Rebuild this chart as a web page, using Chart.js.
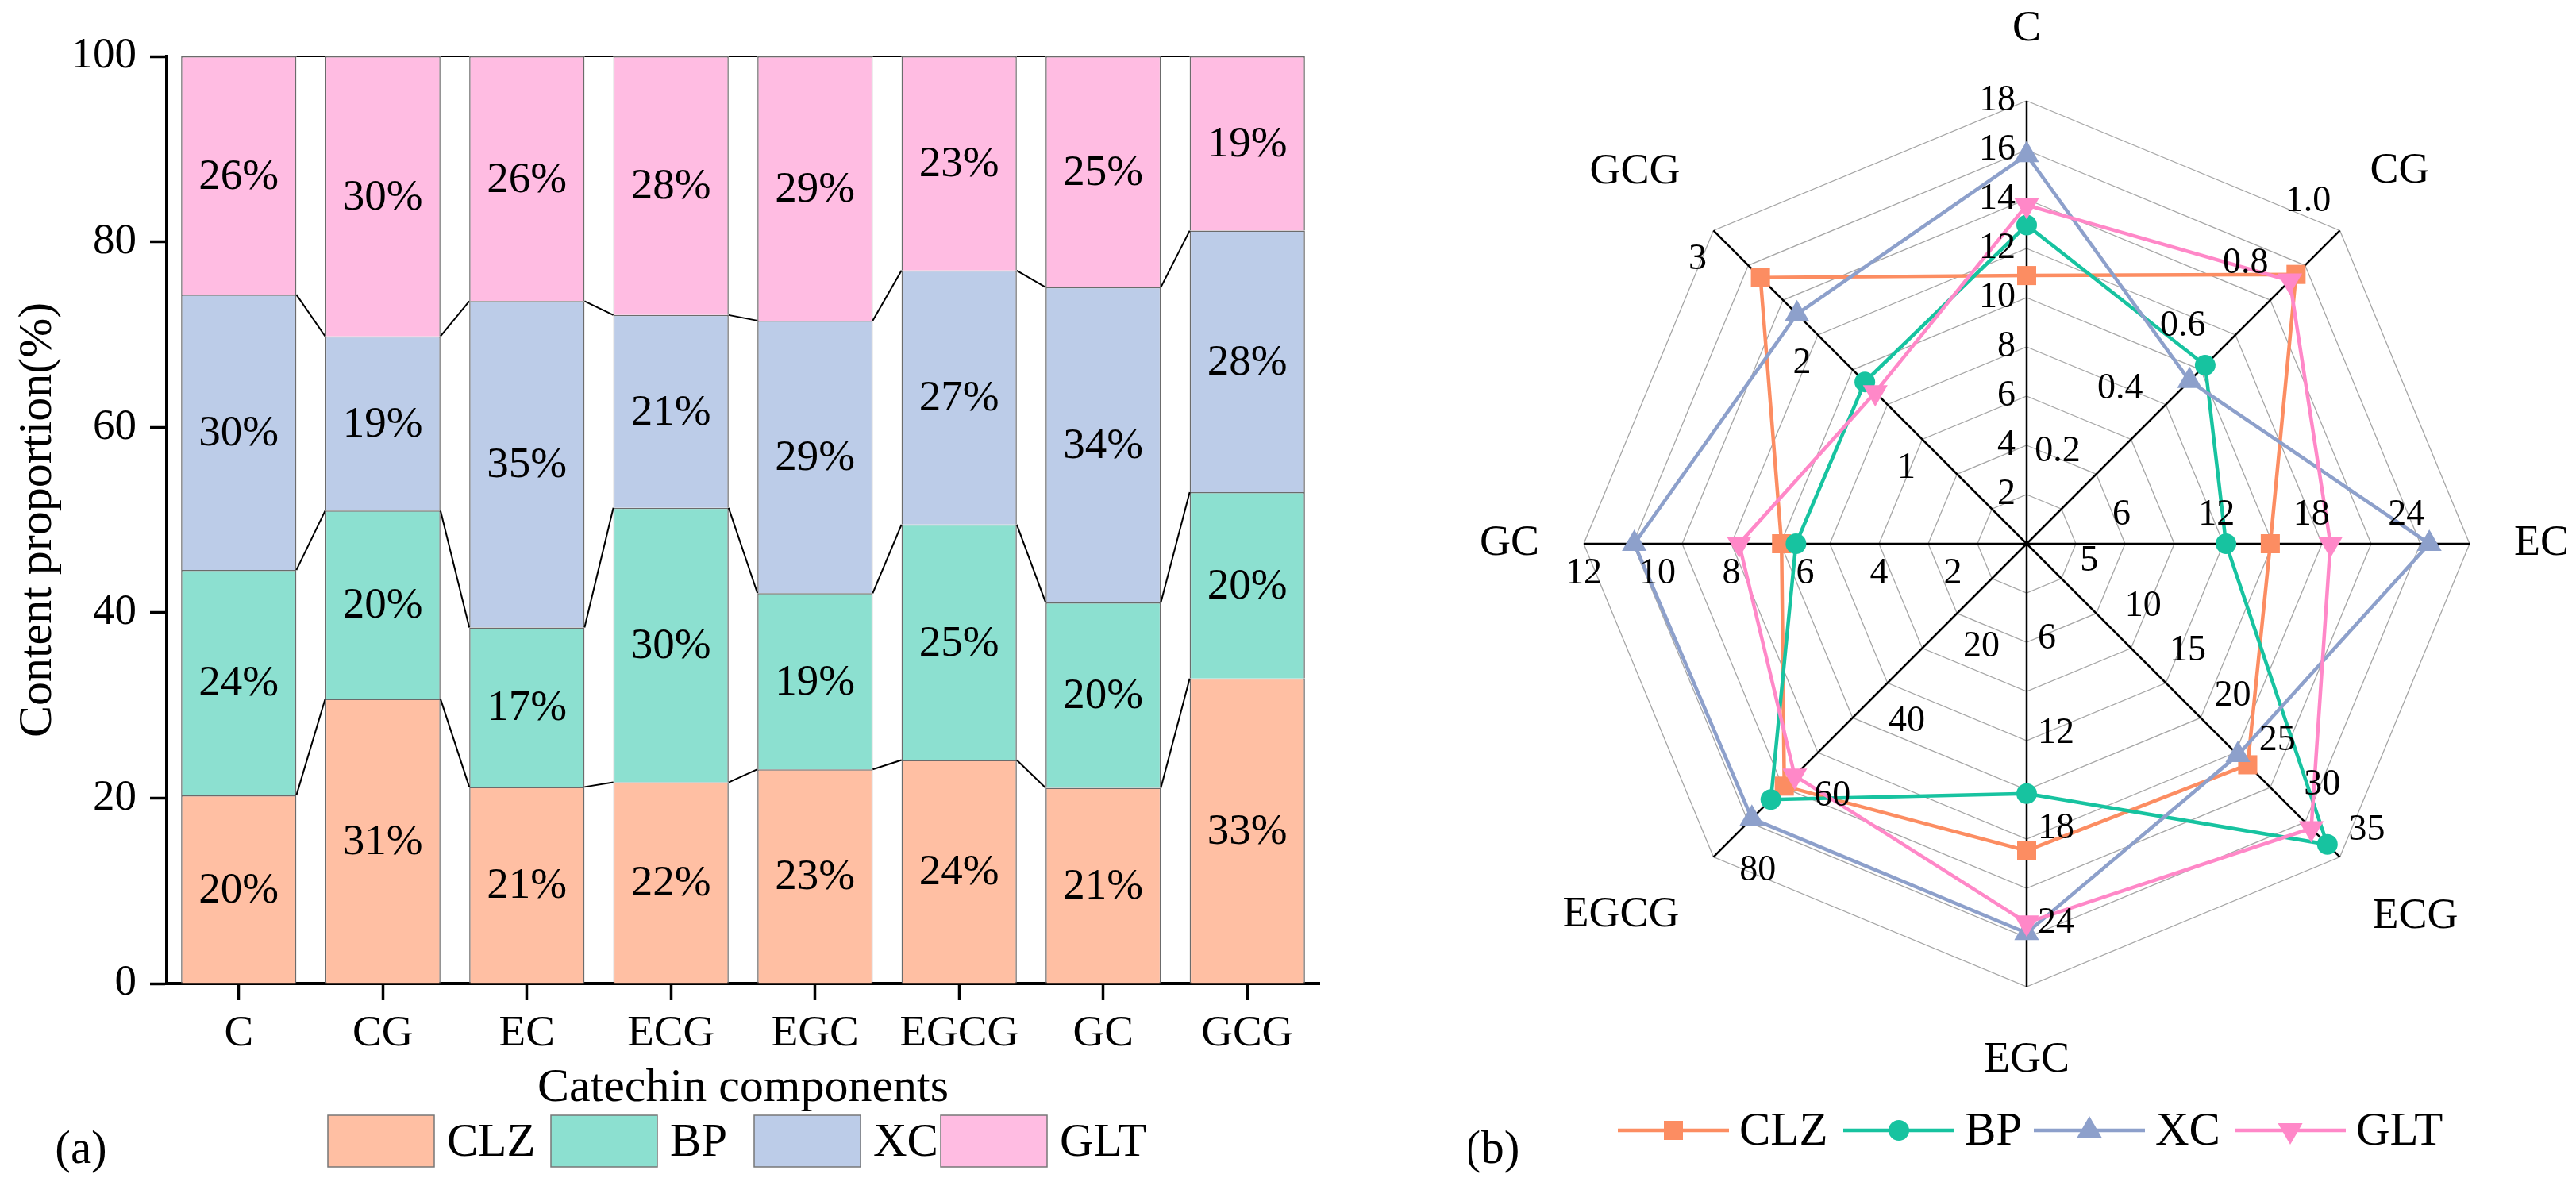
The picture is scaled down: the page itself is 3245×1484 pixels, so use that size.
<!DOCTYPE html>
<html>
<head>
<meta charset="utf-8">
<script src="https://cdn.jsdelivr.net/npm/chart.js"></script>
<style>
  body { margin: 0; background: #fff; font-family: "Liberation Serif", "Times New Roman", serif; }
  #wrap { position: relative; width: 3245px; height: 1484px; }
  canvas { position: absolute; top: 0; }
  #bar { left: 0; }
  #radar { left: 1850px; }
</style>
</head>
<body>
<div id="wrap">
  <canvas id="bar" width="1850" height="1484"></canvas>
  <canvas id="radar" width="1395" height="1484"></canvas>
</div>
<script>
  // catechin components and tea samples
  const components = ['C', 'CG', 'EC', 'ECG', 'EGC', 'EGCG', 'GC', 'GCG'];
  const samples = ['CLZ', 'BP', 'XC', 'GLT'];

  // (a) share of each sample for every component, %
  const clzShare = [20.3, 30.7, 21.2, 21.7, 23.1, 24.1, 21.1, 32.9];
  const bpShare  = [24.3, 20.3, 17.2, 29.6, 19.0, 25.4, 20.0, 20.1];
  const xcShare  = [29.7, 18.8, 35.2, 20.8, 29.4, 27.4, 34.0, 28.2];
  const gltShare = [25.7, 30.2, 26.4, 27.9, 28.5, 23.1, 24.9, 18.8];

  // (b) content of each component, every axis has its own range
  const clzContent = [10.9, 0.86, 15.4, 24.7, 19.4, 65.0, 6.64, 2.55];
  const bpContent  = [12.95, 0.57, 12.6, 33.6, 15.8, 68.6, 6.25, 1.55];
  const xcContent  = [15.8, 0.52, 25.45, 23.6, 24.6, 73.7, 10.63, 2.20];
  const gltContent = [13.76, 0.84, 19.2, 31.8, 23.95, 62.2, 7.79, 1.45];

  // radar axis ranges and their tick labels
  const axisMax = [18, 1.0, 28, 35, 28, 84, 12, 3];
  const axisTicks = [
    ['2', '4', '6', '8', '10', '12', '14', '16', '18'],
    ['0.2', '0.4', '0.6', '0.8', '1.0'],
    ['6', '12', '18', '24'],
    ['5', '10', '15', '20', '25', '30', '35'],
    ['6', '12', '18', '24'],
    ['20', '40', '60', '80'],
    ['2', '4', '6', '8', '10', '12'],
    ['1', '2', '3']
  ];
  const rings = 9;

  const serif = '"Liberation Serif", "Times New Roman", serif';
  const barFill = ['#FFBFA3', '#8CE0D0', '#BCCCE8', '#FFBCE2'];
  const lineColor = ['#FC8D62', '#17C3A0', '#8DA0CB', '#FF88C8'];
  const markers = ['rect', 'circle', 'triangle', 'triangle'];
  const markerRot = [0, 0, 0, 180];
  const markerSize = [17, 13, 18, 18];

  const shares = [clzShare, bpShare, xcShare, gltShare];
  const contents = [clzContent, bpContent, xcContent, gltContent];

  Chart.defaults.font.family = serif;

  // connector lines, percent labels, legend for (a)
  const barDeco = {
    id: 'barDeco',
    afterDatasetsDraw(chart) {
      const ctx = chart.ctx;
      ctx.save();
      ctx.strokeStyle = '#000';
      ctx.lineWidth = 2;
      const metas = chart.data.datasets.map((d, k) => chart.getDatasetMeta(k));
      metas.forEach(m => {
        for (let i = 0; i < m.data.length - 1; i++) {
          const a = m.data[i], b = m.data[i + 1];
          ctx.beginPath();
          ctx.moveTo(a.x + a.width / 2, a.y);
          ctx.lineTo(b.x - b.width / 2, b.y);
          ctx.stroke();
        }
      });
      ctx.fillStyle = '#000';
      ctx.font = '55px ' + serif;
      ctx.textAlign = 'center';
      ctx.textBaseline = 'middle';
      metas.forEach((m, k) => {
        m.data.forEach((el, i) => {
          ctx.fillText(Math.round(shares[k][i]) + '%', el.x, (el.y + el.base) / 2 + 2);
        });
      });

      // legend
      const boxX = [413, 694, 950, 1185];
      ctx.font = '59px ' + serif;
      ctx.textAlign = 'left';
      samples.forEach((s, k) => {
        ctx.fillStyle = barFill[k];
        ctx.fillRect(boxX[k], 1405, 134, 65);
        ctx.strokeStyle = '#777';
        ctx.lineWidth = 1.5;
        ctx.strokeRect(boxX[k], 1405, 134, 65);
        ctx.fillStyle = '#000';
        ctx.fillText(s, boxX[k] + 150, 1440);
      });
      ctx.textAlign = 'center';
      ctx.fillText('(a)', 102, 1449);
      ctx.restore();
    }
  };

  new Chart(document.getElementById('bar'), {
    type: 'bar',
    data: {
      labels: components,
      datasets: shares.map((vals, k) => ({
        label: samples[k],
        data: vals,
        backgroundColor: barFill[k],
        borderColor: '#6b6b6b',
        borderWidth: 1.5,
        barPercentage: 0.8,
        categoryPercentage: 1
      }))
    },
    options: {
      responsive: false,
      animation: false,
      devicePixelRatio: 1,
      layout: { padding: { left: 0, right: 188, top: 71, bottom: 0 } },
      plugins: { legend: { display: false }, tooltip: { enabled: false } },
      scales: {
        x: {
          stacked: true,
          grid: { drawOnChartArea: false, offset: false, tickLength: 21, tickWidth: 3.5, tickColor: '#000' },
          border: { color: '#000', width: 4 },
          ticks: { color: '#000', font: { family: serif, size: 55 }, padding: 10, maxRotation: 0 },
          title: { display: true, text: 'Catechin components', color: '#000', font: { family: serif, size: 60 }, padding: { top: 0, bottom: 77 } },
          afterFit(s) { s.height = 245; }
        },
        y: {
          stacked: true,
          min: 0,
          max: 100,
          grid: { drawOnChartArea: false, tickLength: 21, tickWidth: 3.5, tickColor: '#000' },
          border: { color: '#000', width: 4 },
          ticks: { stepSize: 20, color: '#000', font: { family: serif, size: 55 }, padding: 17 },
          title: { display: true, text: 'Content proportion(%)', color: '#000', font: { family: serif, size: 60 }, padding: { top: 12, bottom: 0 } },
          afterFit(s) { s.width = 210; }
        }
      }
    },
    plugins: [barDeco]
  });

  // per-axis tick labels, axis names, legend for (b)
  const tickOffset = [[-14, 0, 'right'], [-40, -37, 'center'], [0, -36, 'center'], [11, -34, 'left'],
                      [14, 0, 'left'], [37, 36, 'center'], [0, 38, 'center'], [-20, 36, 'center']];
  const nameOffset = [[0, -90, 'center'], [38, -75, 'left'], [56, 0, 'left'], [41, 75, 'left'],
                      [0, 93, 'center'], [-43, 73, 'right'], [-56, 0, 'right'], [-42, -74, 'right']];

  const radarDeco = {
    id: 'radarDeco',
    afterDraw(chart) {
      const r = chart.scales.r;
      const ctx = chart.ctx;
      ctx.save();
      ctx.fillStyle = '#000';
      ctx.textBaseline = 'middle';
      ctx.font = '46px ' + serif;
      axisTicks.forEach((ticks, i) => {
        const [dx, dy, al] = tickOffset[i];
        ctx.textAlign = al;
        ticks.forEach(t => {
          const p = r.getPointPositionForValue(i, parseFloat(t) / axisMax[i] * rings);
          ctx.fillText(t, p.x + dx, p.y + dy);
        });
      });
      ctx.font = '54px ' + serif;
      components.forEach((c, i) => {
        const [dx, dy, al] = nameOffset[i];
        const p = r.getPointPosition(i, r.drawingArea);
        ctx.textAlign = al;
        ctx.fillText(c, p.x + dx, p.y + dy);
      });

      // legend: line - marker - line
      const lineX = [188, 472, 712, 965];
      const ly = 1424;
      ctx.font = '59px ' + serif;
      ctx.textAlign = 'left';
      samples.forEach((s, k) => {
        ctx.strokeStyle = lineColor[k];
        ctx.lineWidth = 4.5;
        ctx.beginPath();
        ctx.moveTo(lineX[k], ly);
        ctx.lineTo(lineX[k] + 140, ly);
        ctx.stroke();
        ctx.fillStyle = lineColor[k];
        Chart.helpers.drawPoint(ctx, { pointStyle: markers[k], rotation: markerRot[k], radius: markerSize[k], borderWidth: 0 }, lineX[k] + 70, ly);
        ctx.fillStyle = '#000';
        ctx.fillText(s, lineX[k] + 153, ly + 2);
      });
      ctx.textAlign = 'center';
      ctx.fillText('(b)', 30, 1449);
      ctx.restore();
    }
  };

  new Chart(document.getElementById('radar'), {
    type: 'radar',
    data: {
      labels: components,
      datasets: contents.map((vals, k) => ({
        label: samples[k],
        data: vals.map((v, i) => v / axisMax[i] * rings),
        borderColor: lineColor[k],
        backgroundColor: lineColor[k],
        pointBackgroundColor: lineColor[k],
        pointBorderColor: lineColor[k],
        borderWidth: 4.5,
        pointStyle: markers[k],
        pointRotation: markerRot[k],
        pointRadius: markerSize[k],
        pointBorderWidth: 0,
        fill: false,
        order: 4 - k
      }))
    },
    options: {
      responsive: false,
      animation: false,
      devicePixelRatio: 1,
      layout: { padding: { left: 145, right: 134, top: 127, bottom: 241 } },
      plugins: { legend: { display: false }, tooltip: { enabled: false } },
      scales: {
        r: {
          min: 0,
          max: rings,
          ticks: { display: false, stepSize: 1 },
          grid: { color: '#a6a6a6', lineWidth: 1.3 },
          angleLines: { color: '#000', lineWidth: 2.5 },
          pointLabels: { display: false }
        }
      }
    },
    plugins: [radarDeco]
  });
</script>
</body>
</html>
